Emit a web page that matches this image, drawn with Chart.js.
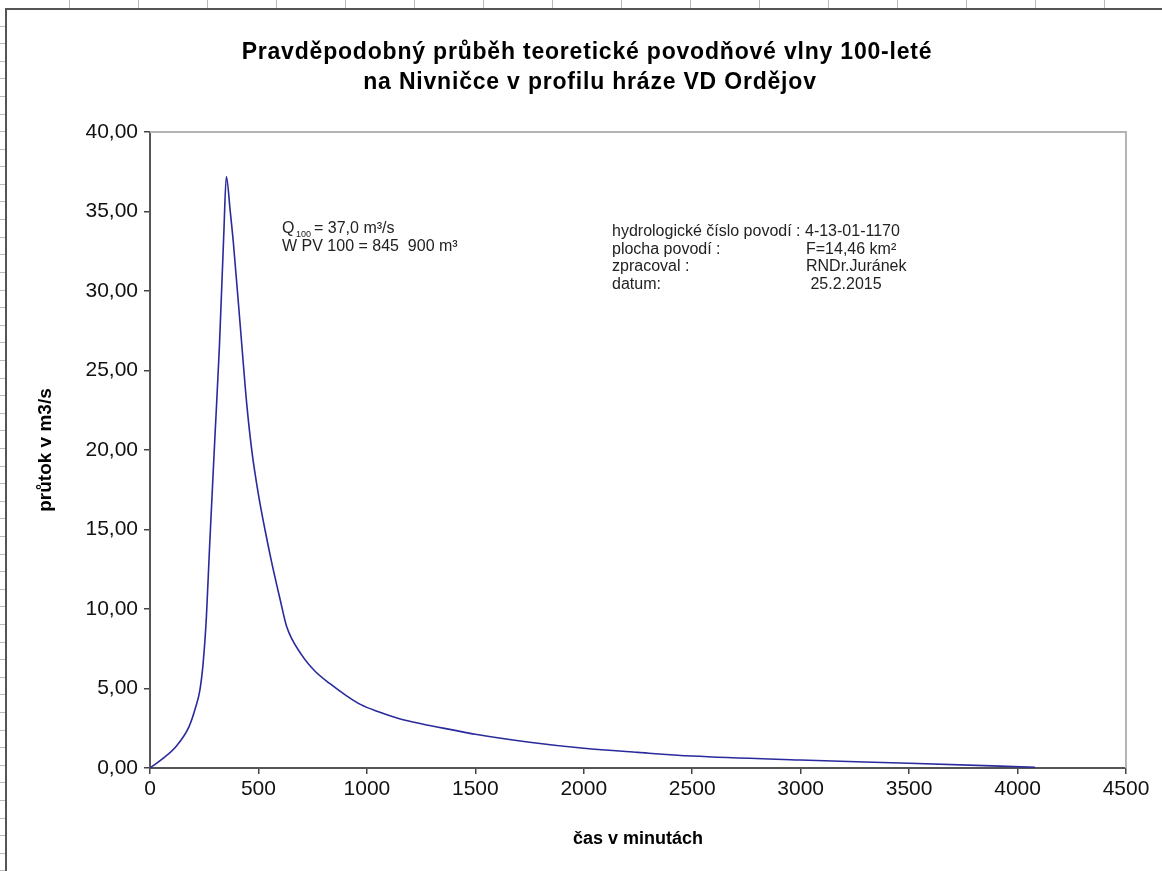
<!DOCTYPE html>
<html>
<head>
  <meta charset="utf-8">
  <title>Povodňová vlna 100-letá</title>
  <script src="https://cdn.jsdelivr.net/npm/chart.js"></script>
  <style>
    body { margin: 0; background: #fff; }
    #wrap { width: 1162px; height: 871px; position: relative; }
  </style>
</head>
<body>
  <div id="wrap"><canvas id="waveChart"></canvas></div>

  <script>
    // cas v minutach
    var casMin = [0, 60, 120, 180, 210, 230, 245, 260, 275, 300, 320, 340, 352,
      370, 384, 415, 446, 470, 500, 530, 560, 600, 630, 700, 760, 830, 900, 970,
      1050, 1150, 1250, 1400, 1500, 1750, 2000, 2250, 2500, 3000, 3500, 4080];
    // prutok v m3/s
    var prutok = [0.0, 0.6, 1.35, 2.6, 3.8, 4.9, 6.6, 9.5, 14.0, 21.0, 26.5, 33.5, 37.2,
      35.0, 33.1, 28.0, 22.9, 19.9, 17.2, 15.0, 13.0, 10.6, 8.9, 7.1, 6.1, 5.3, 4.6, 4.0,
      3.55, 3.1, 2.78, 2.38, 2.12, 1.62, 1.24, 0.98, 0.75, 0.5, 0.3, 0.05];
    var yTicks = [0, 5, 10, 15, 20, 25, 30, 35, 40];
    var xTicks = [0, 500, 1000, 1500, 2000, 2500, 3000, 3500, 4000, 4500];

    var titleLines = ['Pravděpodobný průběh teoretické povodňové vlny 100-leté',
      'na Nivničce v profilu hráze VD Ordějov'];
    var infoLeft = ['hydrologické číslo povodí : 4-13-01-1170', 'plocha povodí :', 'zpracoval :', 'datum:'];
    var infoRight = ['', 'F=14,46 km²', 'RNDr.Juránek', ' 25.2.2015'];

    var points = casMin.map(function (t, i) { return { x: t, y: prutok[i] }; });
    var fontFam = '"Liberation Sans", Arial, sans-serif';

    var decor = {
      id: 'decor',
      beforeDraw: function (chart) {
        var ctx = chart.ctx;
        ctx.save();
        // outer frame like the sheet border
        ctx.strokeStyle = '#555';
        ctx.lineWidth = 2;
        ctx.beginPath();
        ctx.moveTo(6, 871); ctx.lineTo(6, 9); ctx.lineTo(1162, 9);
        ctx.stroke();
        ctx.strokeStyle = '#bbb';
        ctx.lineWidth = 1;
        ctx.beginPath();
        for (var x = 69; x < 1162; x += 69) { ctx.moveTo(x + 0.5, 0); ctx.lineTo(x + 0.5, 8); }
        for (var y = 25.5; y < 871; y += 17.6) { ctx.moveTo(0, Math.round(y) + 0.5); ctx.lineTo(5, Math.round(y) + 0.5); }
        ctx.stroke();
        ctx.restore();
      },
      afterDraw: function (chart) {
        var ctx = chart.ctx;
        var a = chart.chartArea;
        ctx.save();
        // top and right edge of plot
        ctx.strokeStyle = '#b4b4b4';
        ctx.lineWidth = 2;
        ctx.beginPath();
        ctx.moveTo(a.left, a.top); ctx.lineTo(a.right, a.top); ctx.lineTo(a.right, a.bottom);
        ctx.stroke();

        ctx.fillStyle = '#000';
        ctx.textAlign = 'center';
        ctx.textBaseline = 'alphabetic';
        ctx.font = 'bold 23px ' + fontFam;
        ctx.letterSpacing = '0.8px';
        ctx.fillText(titleLines[0], 587, 59);
        ctx.fillText(titleLines[1], 590, 89);
        ctx.letterSpacing = '0px';

        ctx.textAlign = 'left';
        ctx.fillStyle = '#222';
        ctx.font = '16px ' + fontFam;
        ctx.fillText('Q', 282, 233);
        ctx.font = '9px ' + fontFam;
        ctx.fillText('100', 296, 237);
        ctx.font = '16px ' + fontFam;
        ctx.fillText('= 37,0 m³/s', 314, 233);
        ctx.fillText('W PV 100 = 845  900 m³', 282, 251);

        for (var i = 0; i < infoLeft.length; i++) {
          ctx.fillText(infoLeft[i], 612, 236 + i * 17.7);
          if (infoRight[i]) ctx.fillText(infoRight[i], 806, 236 + i * 17.7);
        }
        ctx.restore();
      }
    };

    var ctx = document.getElementById('waveChart').getContext('2d');
    var waveChart = new Chart(ctx, {
      type: 'line',
      data: {
        datasets: [{
          label: 'Q',
          data: points,
          borderColor: '#2a2a9c',
          borderWidth: 1.6,
          pointRadius: 0,
          fill: false,
          cubicInterpolationMode: 'monotone'
        }]
      },
      options: {
        responsive: true,
        maintainAspectRatio: false,
        animation: false,
        layout: { padding: { top: 132, right: 36, left: 0, bottom: 0 } },
        plugins: { legend: { display: false }, tooltip: { enabled: false } },
        scales: {
          x: {
            type: 'linear',
            min: 0, max: 4500,
            afterBuildTicks: function (s) { s.ticks = xTicks.map(function (v) { return { value: v }; }); },
            afterFit: function (s) { s.height = 103; },
            grid: { drawOnChartArea: false, color: '#444', tickLength: 6, lineWidth: 1.5 },
            border: { color: '#555', width: 2 },
            ticks: {
              color: '#111', padding: 3, maxRotation: 0,
              font: { family: fontFam, size: 21 },
              callback: function (v) { return String(v); }
            },
            title: {
              display: true, text: 'čas v minutách', color: '#000',
              font: { family: fontFam, size: 18, weight: 'bold' },
              padding: { top: 0, bottom: 21 }
            }
          },
          y: {
            min: 0, max: 40,
            afterBuildTicks: function (s) { s.ticks = yTicks.map(function (v) { return { value: v }; }); },
            afterFit: function (s) { s.width = 150; },
            grid: { drawOnChartArea: false, color: '#444', tickLength: 6, lineWidth: 1.5 },
            border: { color: '#555', width: 2 },
            ticks: {
              color: '#111', padding: 6,
              font: { family: fontFam, size: 21 },
              callback: function (v) { return v.toFixed(2).replace('.', ','); }
            },
            title: {
              display: true, text: 'průtok v m3/s', color: '#000',
              font: { family: fontFam, size: 19, weight: 'bold' },
              padding: { top: 34, bottom: 0 }
            }
          }
        }
      },
      plugins: [decor]
    });
  </script>
</body>
</html>
